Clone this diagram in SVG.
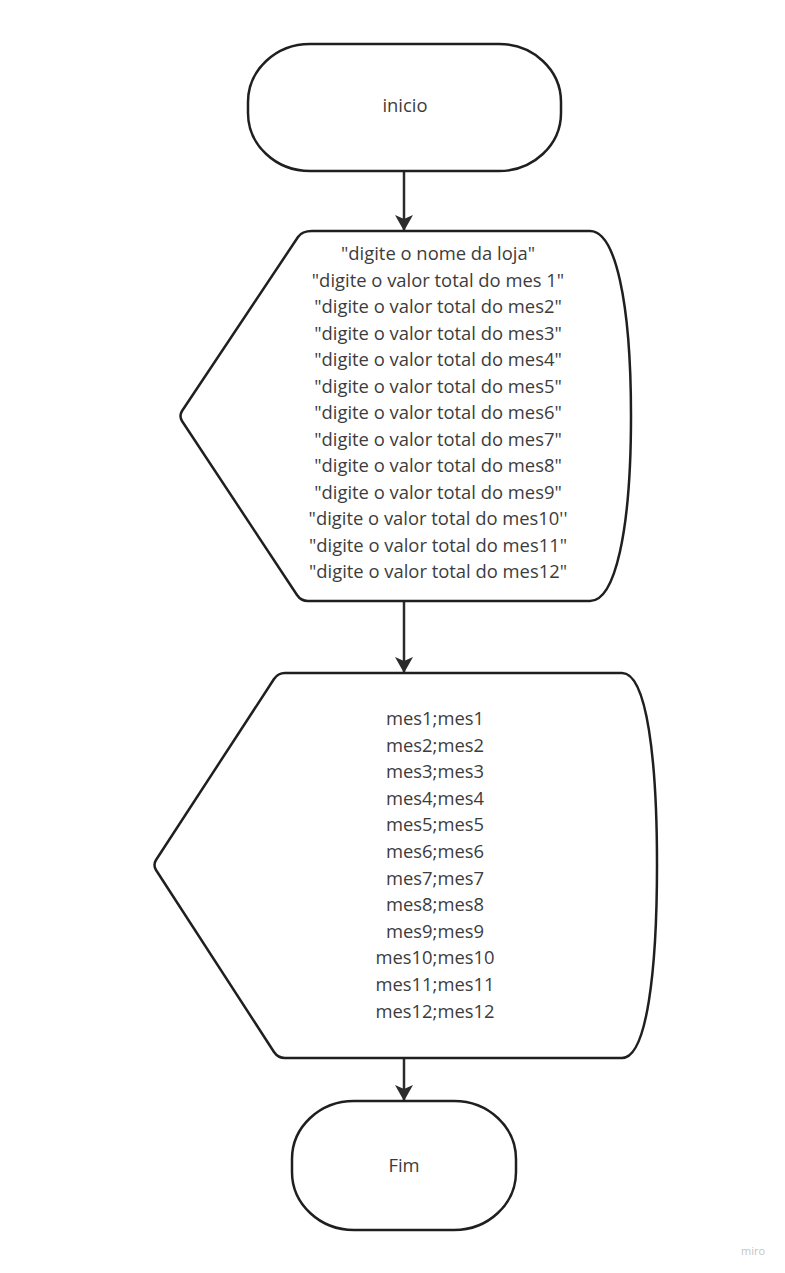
<svg xmlns="http://www.w3.org/2000/svg" width="785" height="1273" viewBox="0 0 785 1273">
<style>
.shape{fill:#ffffff;stroke:#1f1f1f;stroke-width:2.5;stroke-linejoin:round}
.conn{stroke:#2b2b2b;stroke-width:2.5;fill:none}
.lbl{font-family:"Open Sans","Liberation Sans",sans-serif;font-size:18.4px;fill:#3c3c3c;text-anchor:middle}
.wm{font-family:"Open Sans","Liberation Sans",sans-serif;font-size:11px;fill:#c4c4c4}
</style>
<defs>
<marker id="arr" viewBox="0 0 20 20" refX="18" refY="10" markerWidth="20" markerHeight="20" markerUnits="userSpaceOnUse" orient="auto">
<path d="M18,10 L2,1 L6,10 L2,19 Z" fill="#2b2b2b"/>
</marker>
</defs>
<rect width="785" height="1273" fill="#ffffff"/>
<g id="connectors">
<line class="conn" x1="404" y1="171" x2="404" y2="231" marker-end="url(#arr)"/>
<line class="conn" x1="404" y1="601" x2="404" y2="673" marker-end="url(#arr)"/>
<line class="conn" x1="404" y1="1058" x2="404" y2="1101" marker-end="url(#arr)"/>
</g>
<g id="inicio">
<rect class="shape" x="248" y="44" width="313" height="127" rx="62" ry="58"/>
<text class="lbl" x="405" y="112">inicio</text>
</g>
<g id="entrada">
<path class="shape" d="M312,231 L590,231 C615,231 631,300 631,416 C631,532 615,601 590,601 L308,601 Q301,601 297,595 L182,421 Q179,416 182,411 L298,237 Q302,231 312,231 Z"/>
<text class="lbl" x="438" y="260">"digite o nome da loja"</text>
<text class="lbl" x="438" y="286.5">"digite o valor total do mes 1"</text>
<text class="lbl" x="438" y="313">"digite o valor total do mes2"</text>
<text class="lbl" x="438" y="339.5">"digite o valor total do mes3"</text>
<text class="lbl" x="438" y="366">"digite o valor total do mes4"</text>
<text class="lbl" x="438" y="392.5">"digite o valor total do mes5"</text>
<text class="lbl" x="438" y="419">"digite o valor total do mes6"</text>
<text class="lbl" x="438" y="445.5">"digite o valor total do mes7"</text>
<text class="lbl" x="438" y="472">"digite o valor total do mes8"</text>
<text class="lbl" x="438" y="498.5">"digite o valor total do mes9"</text>
<text class="lbl" x="438" y="525">"digite o valor total do mes10''</text>
<text class="lbl" x="438" y="551.5">"digite o valor total do mes11"</text>
<text class="lbl" x="438" y="578">"digite o valor total do mes12"</text>
</g>
<g id="saida">
<path class="shape" d="M285,673 L622,673 C647,673 657,760 657,865 C657,970 647,1058 622,1058 L285,1058 Q278,1058 274,1052 L156,870 Q153,865 156,860 L274,679 Q278,673 285,673 Z"/>
<text class="lbl" x="435" y="725">mes1;mes1</text>
<text class="lbl" x="435" y="751.6">mes2;mes2</text>
<text class="lbl" x="435" y="778.2">mes3;mes3</text>
<text class="lbl" x="435" y="804.8">mes4;mes4</text>
<text class="lbl" x="435" y="831.4">mes5;mes5</text>
<text class="lbl" x="435" y="858">mes6;mes6</text>
<text class="lbl" x="435" y="884.6">mes7;mes7</text>
<text class="lbl" x="435" y="911.2">mes8;mes8</text>
<text class="lbl" x="435" y="937.8">mes9;mes9</text>
<text class="lbl" x="435" y="964.4">mes10;mes10</text>
<text class="lbl" x="435" y="991">mes11;mes11</text>
<text class="lbl" x="435" y="1017.6">mes12;mes12</text>
</g>
<g id="fim">
<rect class="shape" x="292" y="1101" width="224" height="129" rx="62" ry="58"/>
<text class="lbl" x="404" y="1172">Fim</text>
</g>
<text class="wm" x="741" y="1255">miro</text>
</svg>
